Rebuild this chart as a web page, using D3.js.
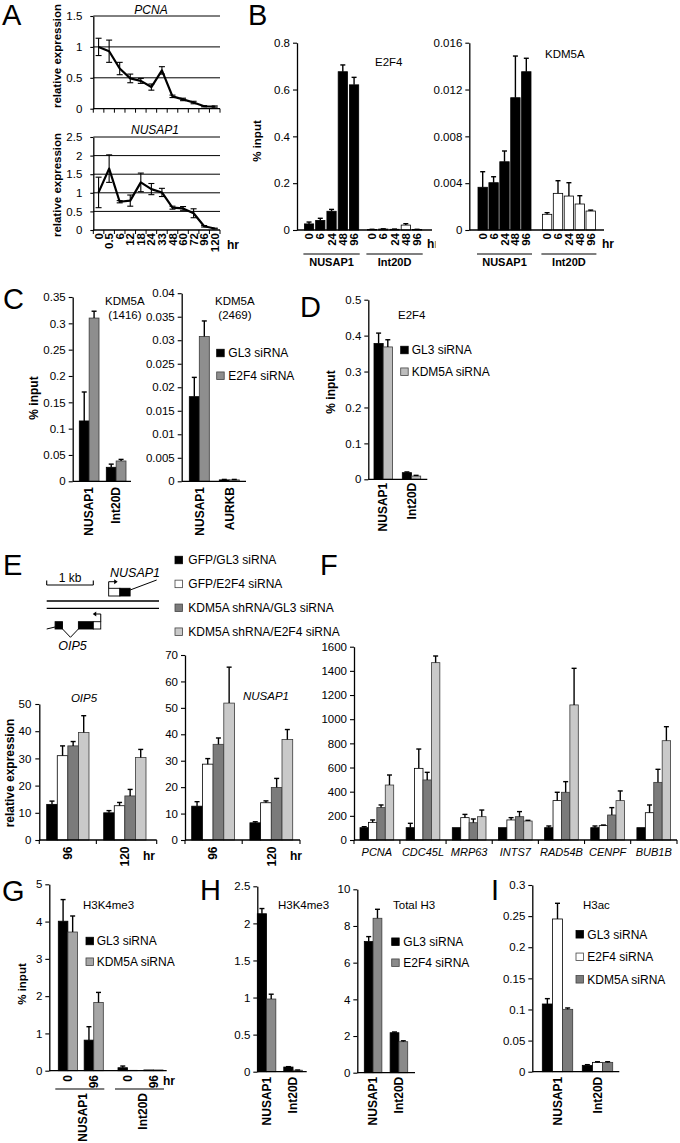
<!DOCTYPE html>
<html><head><meta charset="utf-8">
<script src="https://cdn.jsdelivr.net/npm/d3@7/dist/d3.min.js"></script>
<style>html,body{margin:0;padding:0;background:#fff}svg{display:block}</style>
</head><body>
<svg id="fig" width="680" height="1143" xmlns="http://www.w3.org/2000/svg"></svg>
<script>
// ================= DATA =================
// Panel A (relative expression over time, hr)
const timesA = ["0","0.5","6","12","18","24","33","48","60","72","96","120"];
const pcnaExpr = [1.0,0.93,0.65,0.49,0.45,0.35,0.62,0.2,0.15,0.1,0.04,0.035];
const pcnaErr  = [0.14,0.18,0.1,0.07,0.04,0.05,0.06,0.02,0.02,0.02,0.01,0.01];
const nusapExprA = [1.01,1.65,0.76,0.79,1.28,1.1,1.01,0.6,0.58,0.45,0.1,0.04];
const nusapErrA  = [0.41,0.37,0.03,0.15,0.25,0.15,0.11,0.04,0.05,0.12,0.02,0.01];
const ticksPcna = [0,0.5,1,1.5];
const ticksNusapA = [0,0.5,1,1.5,2,2.5];

// Panel B (ChIP, % input)
const regions = ["NUSAP1","Int20D"];
const timesB = ["0","6","24","48","96"];
const e2f4Nusap = [0.026,0.041,0.08,0.676,0.62];
const e2f4NusapErr = [0.008,0.009,0.008,0.029,0.032];
const e2f4Int = [0.002,0.004,0.003,0.021,0.002];
const e2f4IntErr = [0.001,0.001,0.001,0.006,0.001];
const ticksE2f4B = [0,0.2,0.4,0.6,0.8];
const kdmNusap = [0.00365,0.00404,0.00583,0.0113,0.01352];
const kdmNusapErr = [0.00133,0.00051,0.00092,0.00356,0.00115];
const kdmInt = [0.00134,0.00313,0.0029,0.00222,0.00162];
const kdmIntErr = [0.00014,0.00108,0.00114,0.00071,0.00008];
const ticksKdmB = [0,0.004,0.008,0.012,0.016];

// Panel C
const siC = ["GL3 siRNA","E2F4 siRNA"];
const sitesC1 = ["NUSAP1","Int20D"];
const c1GL3 = [0.1146,0.0266], c1GL3Err = [0.055,0.006];
const c1E2F4 = [0.31,0.0386], c1E2F4Err = [0.013,0.003];
const ticksC1 = [0,0.05,0.1,0.15,0.2,0.25,0.3,0.35];
const sitesC2 = ["NUSAP1","AURKB"];
const c2GL3 = [0.018,0.0003], c2GL3Err = [0.0041,0.0001];
const c2E2F4 = [0.0308,0.0003], c2E2F4Err = [0.0033,0.0001];
const ticksC2 = [0,0.005,0.01,0.015,0.02,0.025,0.03,0.035,0.04];

// Panel D
const siD = ["GL3 siRNA","KDM5A siRNA"];
const dGL3 = [0.378,0.0185], dGL3Err = [0.029,0.002];
const dKDM = [0.3685,0.009], dKDMErr = [0.02,0.002];
const ticksD = [0,0.1,0.2,0.3,0.4,0.5];

// Panel E
const condE = ["GFP/GL3 siRNA","GFP/E2F4 siRNA","KDM5A shRNA/GL3 siRNA","KDM5A shRNA/E2F4 siRNA"];
const hoursE = ["96","120"];
const oip5_96 = [13.1,31,34.6,39.5], oip5_96Err = [1.2,3.6,1.6,6.2];
const oip5_120 = [10,12.6,16.2,30.3], oip5_120Err = [0.8,1.2,2.4,3];
const nusapE_96 = [12.8,28.7,36.2,51.8], nusapE_96Err = [1.7,2.1,2.4,13.6];
const nusapE_120 = [6.5,14.1,19.9,38], nusapE_120Err = [0.4,0.7,3.4,3.8];
const ticksOip5 = [0,10,20,30,40,50];
const ticksNusapE = [0,10,20,30,40,50,60,70];
// gene schematic (kb)
const chromKb = [0,2.41];
const nusapBoxesKb = [[1.33,1.57],[1.57,1.79]];
const oipBoxesKb = [[0.18,0.34],[0.68,1.0],[1.0,1.16]];

// Panel F
const genesF = ["PCNA","CDC45L","MRP63","INTS7","RAD54B","CENPF","BUB1B"];
const fGFPGL3 = [102,102,102,102,102,102,102], fGFPGL3Err = [8,36,0,0,14,14,0];
const fGFPE2F4 = [146,593,185,166,326,119,226], fGFPE2F4Err = [20,160,27,19,69,5,64];
const fKDMGL3 = [268,497,143,193,395,207,477], fKDMGL3Err = [22,63,31,42,88,61,108];
const fKDME2F4 = [455,1468,193,157,1118,326,822], fKDME2F4Err = [83,55,55,6,303,80,116];
const ticksF = [0,200,400,600,800,1000,1200,1400,1600];

// Panel G
const siG = ["GL3 siRNA","KDM5A siRNA"];
const hoursG = ["0","96"];
const gNusapGL3 = [4.01,0.82], gNusapGL3Err = [0.58,0.36];
const gNusapKDM = [3.72,1.83], gNusapKDMErr = [0.43,0.27];
const gIntGL3 = [0.08,0.02], gIntGL3Err = [0.045,0];
const gIntKDM = [0.01,0.02], gIntKDMErr = [0,0];
const ticksG = [0,1,2,3,4,5];

// Panel H
const siH = ["GL3 siRNA","E2F4 siRNA"];
const hK4GL3 = [2.13,0.063], hK4GL3Err = [0.07,0.005];
const hK4E2F4 = [0.98,0.02], hK4E2F4Err = [0.065,0.003];
const hH3GL3 = [7.15,2.18], hH3GL3Err = [0.27,0.04];
const hH3E2F4 = [8.42,1.69], hH3E2F4Err = [0.49,0.05];
const ticksHK4 = [0,0.5,1,1.5,2,2.5];
const ticksHH3 = [0,2,4,6,8,10];

// Panel I
const siI = ["GL3 siRNA","E2F4 siRNA","KDM5A siRNA"];
const iNusap = [0.1088,0.2454,0.1002], iNusapErr = [0.0086,0.0252,0.0022];
const iInt = [0.0102,0.015,0.015], iIntErr = [0.0011,0.001,0.001];
const ticksI = [0,0.05,0.1,0.15,0.2,0.25,0.3];

// ================= DRAWING =================
const FONT = "'Liberation Sans', Arial, Helvetica, sans-serif";
const svg = d3.select("#fig").attr("font-family", FONT);
svg.append("rect").attr("width",680).attr("height",1143).attr("fill","#fff");
const defs = svg.append("defs");

function text(x,y,s,o={}) {
  const t = svg.append("text").attr("x",x).attr("y",y).text(s).attr("font-size",o.size||12).attr("fill","#000");
  if(o.weight) t.attr("font-weight",o.weight);
  if(o.style) t.attr("font-style",o.style);
  if(o.anchor) t.attr("text-anchor",o.anchor);
  return t;
}
function vtext(cx,y,s,o={}) {
  return svg.append("text").attr("transform",`translate(${cx},${y}) rotate(-90)`).attr("dy","0.35em")
    .attr("text-anchor",o.anchor||"middle").attr("font-size",o.size||12)
    .attr("font-weight",o.weight||"bold").attr("font-style",o.style||null).text(s);
}
function styleAxis(ga, fs) {
  ga.attr("font-family",FONT).attr("font-size",fs);
  ga.select(".domain").attr("stroke","#000").attr("stroke-width",1.3);
  ga.selectAll(".tick line").attr("stroke","#000").attr("stroke-width",1.1);
  ga.selectAll(".tick text").attr("fill","#000");
}

function barChart(p) {
  const g = svg.append("g");
  const y = d3.scaleLinear().domain([0, d3.max(p.ticks)]).range([p.y0, p.y1]);
  const pos = keys => {
    let r0 = p.bars[0], r1 = p.bars[1];
    keys.forEach((k,i) => {
      const L = p.levels[i];
      const s = d3.scaleBand().domain(L.domain).range([r0,r1]).paddingInner(L.pi||0).paddingOuter(0);
      r0 = s(k); r1 = r0 + s.bandwidth();
    });
    return [r0, r1-r0];
  };
  g.selectAll("rect.bar").data(p.rows).join("rect").attr("class","bar")
    .attr("x",d=>pos(d.k)[0]).attr("width",d=>pos(d.k)[1])
    .attr("y",d=>y(d.v)).attr("height",d=>y(0)-y(d.v))
    .attr("fill",d=>d.c).attr("stroke",d=>d.c==="#fff"?"#000":(d.c==="#000"?"#000":"#3a3a3a"))
    .attr("stroke-width",0.8);
  const eb = p.rows.filter(d=>d.e>0);
  const cx = d => pos(d.k)[0] + pos(d.k)[1]/2;
  g.selectAll("line.ev").data(eb).join("line").attr("class","ev")
    .attr("x1",cx).attr("x2",cx).attr("y1",d=>y(d.v)).attr("y2",d=>y(d.v+d.e))
    .attr("stroke","#000").attr("stroke-width",1.4);
  g.selectAll("line.ec").data(eb).join("line").attr("class","ec")
    .attr("x1",d=>cx(d)-2.5).attr("x2",d=>cx(d)+2.5).attr("y1",d=>y(d.v+d.e)).attr("y2",d=>y(d.v+d.e))
    .attr("stroke","#000").attr("stroke-width",1.4);
  g.append("line").attr("x1",p.x0).attr("x2",p.x1).attr("y1",y(0)).attr("y2",y(0))
    .attr("stroke","#000").attr("stroke-width",1.3);
  if (p.xticks) {
    const gs = p.levels[0].domain;
    const xs = [p.x0, p.x1];
    for (let i=0;i<gs.length-1;i++){
      const a = pos([gs[i]]), b = pos([gs[i+1]]);
      xs.push((a[0]+a[1]+b[0])/2);
    }
    g.selectAll("line.xt").data(xs).join("line").attr("x1",d=>d).attr("x2",d=>d)
      .attr("y1",y(0)).attr("y2",y(0)+4).attr("stroke","#000").attr("stroke-width",1.1);
  }
  const ax = d3.axisLeft(y).tickValues(p.ticks).tickSize(4).tickSizeOuter(0).tickPadding(p.pad||3).tickFormat(d=>String(d));
  const ga = g.append("g").attr("transform",`translate(${p.x0},0)`).call(ax);
  styleAxis(ga, p.fs||11.5);
  return {g, y, pos};
}
function legend(x, y0, step, labels, colors, tx) {
  labels.forEach((l,i) => {
    const cy = y0 + i*step;
    svg.append("rect").attr("x",x).attr("y",cy-3.75).attr("width",7.5).attr("height",7.5)
      .attr("fill",colors[i]).attr("stroke",colors[i]==="#000"?"#000":"#444").attr("stroke-width",0.8);
    text(tx, cy+4.3, l, {size:12});
  });
}

// ---------- Panel letters ----------
[["A",2,25],["B",248,25],["C",3,309],["D",300,317],["E",3,575],["F",320,575],["G",2,901],["H",200,900],["I",491,900]]
  .forEach(([s,x,y]) => text(x,y,s,{size:29}));

// ---------- Panel A ----------
function lineChart(p) {
  const g = svg.append("g");
  const x = d3.scaleBand().domain(timesA).range([p.x0,p.x1]);
  const y = d3.scaleLinear().domain([0, d3.max(p.ticks)]).range([p.y0,p.y1]);
  g.selectAll("line.grid").data(p.ticks.filter(t=>t>0)).join("line").attr("class","grid")
    .attr("x1",p.x0).attr("x2",p.x1).attr("y1",d=>y(d)).attr("y2",d=>y(d)).attr("stroke","#000").attr("stroke-width",1);
  g.append("line").attr("x1",p.x0).attr("x2",p.x1).attr("y1",p.y0).attr("y2",p.y0).attr("stroke","#000").attr("stroke-width",1.3);
  const edges = timesA.map(t=>x(t)).concat([p.x1]);
  g.selectAll("line.xt").data(edges).join("line").attr("class","xt")
    .attr("x1",d=>d).attr("x2",d=>d).attr("y1",p.y0).attr("y2",p.y0+4).attr("stroke","#000").attr("stroke-width",1);
  const ax = d3.axisLeft(y).tickValues(p.ticks).tickSize(3).tickSizeOuter(0).tickPadding(8).tickFormat(d=>String(d));
  const ga = g.append("g").attr("transform",`translate(${p.x0},0)`).call(ax);
  styleAxis(ga, 11.5);
  const cx = i => x(timesA[i]) + x.bandwidth()/2;
  const pts = p.vals.map((v,i)=>({i, v, e:p.errs[i]}));
  g.selectAll("line.ev").data(pts).join("line").attr("class","ev")
    .attr("x1",d=>cx(d.i)).attr("x2",d=>cx(d.i)).attr("y1",d=>y(d.v-d.e)).attr("y2",d=>y(d.v+d.e))
    .attr("stroke","#000").attr("stroke-width",1.1);
  [1,-1].forEach(sg => g.selectAll("line.ec"+(sg>0?"a":"b")).data(pts).join("line").attr("class","ec"+(sg>0?"a":"b"))
    .attr("x1",d=>cx(d.i)-3).attr("x2",d=>cx(d.i)+3).attr("y1",d=>y(d.v+sg*d.e)).attr("y2",d=>y(d.v+sg*d.e))
    .attr("stroke","#000").attr("stroke-width",1.1));
  g.append("path").datum(pts).attr("d", d3.line().x(d=>cx(d.i)).y(d=>y(d.v)))
    .attr("fill","none").attr("stroke","#000").attr("stroke-width",2.2).attr("stroke-linejoin","round");
  return {x, y, cx};
}
lineChart({x0:93.3, x1:220, y0:108.7, y1:16, ticks:ticksPcna, vals:pcnaExpr, errs:pcnaErr});
text(151,13.5,"PCNA",{size:12,style:"italic",anchor:"middle"});
const aN = lineChart({x0:93.3, x1:220, y0:230, y1:137, ticks:ticksNusapA, vals:nusapExprA, errs:nusapErrA});
text(155,134,"NUSAP1",{size:12,style:"italic",anchor:"middle"});
timesA.forEach((t,i) => vtext(aN.cx(i), 233, t, {anchor:"end", size:11.5}));
text(227,249,"hr",{size:12,weight:"bold"});
vtext(57,56,"relative expression",{size:11.5});
vtext(57,185,"relative expression",{size:11.5});

// ---------- Panel B ----------
function bRows(nv, ne, iv, ie) {
  const rows = [];
  timesB.forEach((t,i) => {
    rows.push({k:[regions[0],t], v:nv[i], e:ne[i], c:"#000"});
    rows.push({k:[regions[1],t], v:iv[i], e:ie[i], c:"#fff"});
  });
  return rows;
}
function bLabels(ch, hrx) {
  regions.forEach(r => {
    timesB.forEach(t => { const [bx,bw] = ch.pos([r,t]); vtext(bx+bw/2, 233, t, {anchor:"end", size:11.5}); });
    const [gx,gw] = ch.pos([r]);
    svg.append("line").attr("x1",gx-1).attr("x2",gx+gw+1).attr("y1",254).attr("y2",254).attr("stroke","#000").attr("stroke-width",1.2);
    text(gx+gw/2, 266, r, {size:11, weight:"bold", anchor:"middle"});
  });
}
const bL = barChart({x0:297, x1:432, y0:230, y1:42.7, ticks:ticksE2f4B, bars:[304.4,421.7],
  levels:[{domain:regions, pi:0.138},{domain:timesB, pi:0.178}], rows:bRows(e2f4Nusap,e2f4NusapErr,e2f4Int,e2f4IntErr)});
bLabels(bL);
defs.append("clipPath").attr("id","clipHr").append("rect").attr("x",420).attr("y",230).attr("width",15.5).attr("height",30);
text(427,248,"hr",{size:12,weight:"bold"}).attr("clip-path","url(#clipHr)");
text(375,66,"E2F4",{size:11.5});
vtext(257,141,"% input",{size:11.5});

const bR = barChart({x0:469.3, x1:604, y0:230, y1:42.7, ticks:ticksKdmB, bars:[478,595.4],
  levels:[{domain:regions, pi:0.177},{domain:timesB, pi:0.14}], rows:bRows(kdmNusap,kdmNusapErr,kdmInt,kdmIntErr)});
bLabels(bR);
text(602,248,"hr",{size:12,weight:"bold"});
text(545,58,"KDM5A",{size:11.5});

// ---------- Panel C ----------
const grayC = "#8e8e8e";
function pairRows(sites, si, a, ae, b, be, ca, cb) {
  const rows = [];
  sites.forEach((s,i) => {
    rows.push({k:[s,si[0]], v:a[i], e:ae[i], c:ca});
    rows.push({k:[s,si[1]], v:b[i], e:be[i], c:cb});
  });
  return rows;
}
function siteLabels(ch, sites, yTop) {
  sites.forEach(s => { const [gx,gw] = ch.pos([s]); vtext(gx+gw/2, yTop, s, {anchor:"end", size:12}); });
}
const c1 = barChart({x0:72.7, x1:131, y0:481.3, y1:297, ticks:ticksC1, bars:[79.3,126],
  levels:[{domain:sitesC1, pi:0.27},{domain:siC, pi:0}], rows:pairRows(sitesC1,siC,c1GL3,c1GL3Err,c1E2F4,c1E2F4Err,"#000",grayC)});
siteLabels(c1, sitesC1, 487);
text(105,305,"KDM5A",{size:11.5});
text(108.3,319,"(1416)",{size:11.5});
vtext(33.3,398,"% input",{size:12});
const c2 = barChart({x0:181.7, x1:246, y0:481.3, y1:293.2, ticks:ticksC2, bars:[189.3,239.3],
  levels:[{domain:sitesC2, pi:0.333},{domain:siC, pi:0}], rows:pairRows(sitesC2,siC,c2GL3,c2GL3Err,c2E2F4,c2E2F4Err,"#000",grayC)});
siteLabels(c2, sitesC2, 487);
text(215,305,"KDM5A",{size:11.5});
text(218.3,319,"(2469)",{size:11.5});
legend(216.7, 353, 22.7, siC, ["#000",grayC], 228.3);

// ---------- Panel D ----------
const grayD = "#bdbdbd";
const dCh = barChart({x0:368.3, x1:427.3, y0:479.3, y1:299.7, ticks:ticksD, bars:[374,420.7],
  levels:[{domain:regions, pi:0.35},{domain:siD, pi:0}], rows:pairRows(regions,siD,dGL3,dGL3Err,dKDM,dKDMErr,"#000",grayD)});
siteLabels(dCh, regions, 482.7);
text(398,319,"E2F4",{size:11.5});
legend(400.7, 350, 21.7, siD, ["#000",grayD], 411.7);
vtext(331,392,"% input",{size:12});

// ---------- Panel E ----------
const colE = ["#000","#fff","#7b7b7b","#c9c9c9"];
legend(175, 560, 23.9, condE, colE, 188.3);
// gene schematic
const kb = d3.scaleLinear().domain([0,1]).range([46.7,93.3]);
const ln = (x1,y1,x2,y2,w) => svg.append("line").attr("x1",x1).attr("y1",y1).attr("x2",x2).attr("y2",y2).attr("stroke","#000").attr("stroke-width",w||1.1);
ln(kb(0),585,kb(1),585,1.1); ln(kb(0),580.5,kb(0),585); ln(kb(1),580.5,kb(1),585);
text(kb(0.5),582,"1 kb",{size:12,anchor:"middle"});
ln(kb(chromKb[0]),601,kb(chromKb[1]),601,1.3);
ln(kb(chromKb[0]),608.3,kb(chromKb[1]),608.3,1.3);
// NUSAP1 gene (above)
nusapBoxesKb.forEach((b,i)=> svg.append("rect").attr("x",kb(b[0])).attr("y",588.3).attr("width",kb(b[1])-kb(b[0])).attr("height",7.7)
  .attr("fill",i===0?"#fff":"#000").attr("stroke","#000").attr("stroke-width",0.9));
ln(kb(1.79),590,kb(2.36),580,1);
svg.append("path").attr("d",`M${kb(1.33)},588.3V581.7H${kb(1.33)+7}`).attr("fill","none").attr("stroke","#000").attr("stroke-width",1);
svg.append("path").attr("d",`M${kb(1.33)+9},581.7l-3.5,-2.5v5z`).attr("fill","#000");
text(110,577,"NUSAP1",{size:12.5,style:"italic"});
// OIP5 gene (below)
ln(kb(0),629,kb(0.18),627,1);
oipBoxesKb.forEach((b,i)=> svg.append("rect").attr("x",kb(b[0])).attr("y",621.7).attr("width",kb(b[1])-kb(b[0])).attr("height",7.3)
  .attr("fill",i===2?"#fff":"#000").attr("stroke","#000").attr("stroke-width",0.9));
svg.append("path").attr("d",`M${kb(0.34)},629L${kb(0.51)},637.3L${kb(0.68)},629`).attr("fill","none").attr("stroke","#000").attr("stroke-width",1);
svg.append("path").attr("d",`M${kb(1.16)},621.7V614H${kb(1.16)-5.5}`).attr("fill","none").attr("stroke","#000").attr("stroke-width",1);
svg.append("path").attr("d",`M${kb(1.16)-8},614l3.5,-2.5v5z`).attr("fill","#000");
text(72.5,650,"OIP5",{size:12.5,style:"italic",anchor:"middle"});

function eRows(v96, e96, v120, e120) {
  const rows = [];
  condE.forEach((c,i) => {
    rows.push({k:[hoursE[0],c], v:v96[i], e:e96[i], c:colE[i]});
    rows.push({k:[hoursE[1],c], v:v120[i], e:e120[i], c:colE[i]});
  });
  return rows;
}
const eO = barChart({x0:39.3, x1:156.7, y0:840, y1:704, ticks:ticksOip5, bars:[46.7,146], xticks:true, pad:4,
  levels:[{domain:hoursE, pi:0.258},{domain:condE, pi:0}], rows:eRows(oip5_96,oip5_96Err,oip5_120,oip5_120Err)});
const eN = barChart({x0:185, x1:300, y0:840, y1:655, ticks:ticksNusapE, bars:[191.7,292.7], xticks:true, pad:3,
  levels:[{domain:hoursE, pi:0.265},{domain:condE, pi:0}], rows:eRows(nusapE_96,nusapE_96Err,nusapE_120,nusapE_120Err)});
[eO,eN].forEach(ch => hoursE.forEach(h => { const [gx,gw] = ch.pos([h]); vtext(gx+gw/2, 846.5, h, {anchor:"end", size:12}); }));
text(143,860,"hr",{size:12,weight:"bold"});
text(290,860,"hr",{size:12,weight:"bold"});
text(84,702,"OIP5",{size:11.5,style:"italic",anchor:"middle"});
text(243,700,"NUSAP1",{size:11.5,style:"italic"});
vtext(10,773,"relative expression",{size:12});

// ---------- Panel F ----------
const fRows = [];
genesF.forEach((gname,i) => {
  [[fGFPGL3,fGFPGL3Err],[fGFPE2F4,fGFPE2F4Err],[fKDMGL3,fKDMGL3Err],[fKDME2F4,fKDME2F4Err]].forEach(([v,e],j) =>
    fRows.push({k:[gname,condE[j]], v:v[i], e:e[i], c:colE[j]}));
});
const fCh = barChart({x0:354, x1:677, y0:840, y1:646.7, ticks:ticksF, bars:[360,670.6], xticks:true,
  levels:[{domain:genesF, pi:0.27},{domain:condE, pi:0}], rows:fRows});
genesF.forEach(gname => { const [gx,gw] = fCh.pos([gname]); text(gx+gw/2, 856, gname, {size:11, style:"italic", anchor:"middle"}); });

// ---------- Panel G ----------
const grayG = "#a6a6a6";
const gRows = [];
regions.forEach((r,ri) => hoursG.forEach((h,hi) => {
  const a = ri===0 ? [gNusapGL3,gNusapGL3Err,gNusapKDM,gNusapKDMErr] : [gIntGL3,gIntGL3Err,gIntKDM,gIntKDMErr];
  gRows.push({k:[r,h,siG[0]], v:a[0][hi], e:a[1][hi], c:"#000"});
  gRows.push({k:[r,h,siG[1]], v:a[2][hi], e:a[3][hi], c:grayG});
}));
const gCh = barChart({x0:49.3, x1:166.7, y0:1070.7, y1:884.3, ticks:ticksG, bars:[58.3,163],
  levels:[{domain:regions, pi:0.246},{domain:hoursG, pi:0.26},{domain:siG, pi:0}], rows:gRows});
regions.forEach(r => {
  hoursG.forEach(h => { const [bx,bw] = gCh.pos([r,h]); vtext(bx+bw/2, 1075, h, {anchor:"end", size:12}); });
  const [gx,gw] = gCh.pos([r]);
  svg.append("line").attr("x1",gx-3).attr("x2",gx+gw+1).attr("y1",1089).attr("y2",1089).attr("stroke","#000").attr("stroke-width",1.2);
  vtext(gx+gw/2+2, 1093, r, {anchor:"end", size:12});
});
text(163,1085,"hr",{size:12,weight:"bold"});
text(83,909,"H3K4me3",{size:11.5});
legend(86, 941, 20.7, siG, ["#000",grayG], 96.7);
vtext(21.7,984,"% input",{size:11.5});

// ---------- Panel H ----------
const grayH = "#8a8a8a";
const h1 = barChart({x0:257.3, x1:306.7, y0:1071.7, y1:886.3, ticks:ticksHK4, bars:[257.3,302.3],
  levels:[{domain:regions, pi:0.30},{domain:siH, pi:0}], rows:pairRows(regions,siH,hK4GL3,hK4GL3Err,hK4E2F4,hK4E2F4Err,"#000",grayH)});
siteLabels(h1, regions, 1076.7);
text(278,909,"H3K4me3",{size:11.5});
const h2 = barChart({x0:357.3, x1:415, y0:1072.7, y1:889.3, ticks:ticksHH3, bars:[364.3,407.7],
  levels:[{domain:regions, pi:0.32},{domain:siH, pi:0}], rows:pairRows(regions,siH,hH3GL3,hH3GL3Err,hH3E2F4,hH3E2F4Err,"#000",grayH)});
siteLabels(h2, regions, 1076.7);
text(393,909,"Total H3",{size:11.5});
legend(391.7, 941.7, 21, siH, ["#000",grayH], 403.3);

// ---------- Panel I ----------
const colI = ["#000","#fff","#7b7b7b"];
const iRows = [];
siI.forEach((s,j) => {
  iRows.push({k:[regions[0],s], v:iNusap[j], e:iNusapErr[j], c:colI[j]});
  iRows.push({k:[regions[1],s], v:iInt[j], e:iIntErr[j], c:colI[j]});
});
const iCh = barChart({x0:532.3, x1:619.3, y0:1071.7, y1:885, ticks:ticksI, bars:[542.3,612.7],
  levels:[{domain:regions, pi:0.24},{domain:siI, pi:0}], rows:iRows});
siteLabels(iCh, regions, 1076.7);
text(583,909,"H3ac",{size:11.5});
legend(576, 934.3, 22.5, siI, colI, 587.3);
</script></body></html>
